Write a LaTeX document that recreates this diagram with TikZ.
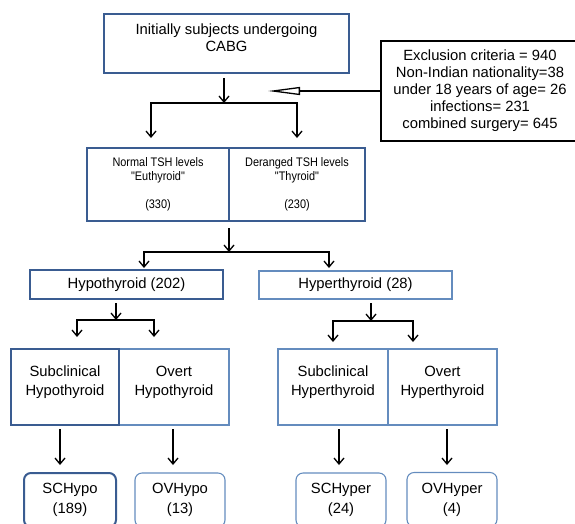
\documentclass[tikz,border=0pt]{standalone}
\usepackage{fontspec}
\setmainfont{Liberation Sans}
\newfontfamily\narrowfont[FakeStretch=0.88]{Liberation Sans}
\usetikzlibrary{arrows.meta}
\usetikzlibrary{positioning}
\definecolor{boxdark}{RGB}{58,92,145}
\definecolor{boxlight}{RGB}{100,140,190}
\tikzset{every node/.style={align=center,inner sep=0pt,outer sep=0pt},
         bigtext/.style={font=\fontsize{14.8}{17}\selectfont},
         smalltext/.style={font=\narrowfont\fontsize{12.4}{14}\selectfont},
         heavybox/.style={draw=boxdark,line width=2pt},
         lightbox/.style={draw=boxlight,line width=1.1pt},
         roundbox/.style={rounded corners=7pt},
         uptext/.style={text depth=#1},
         flow/.style={-{Straight Barb[length=6pt,width=10pt]},line width=1.3pt},
         flowtwo/.style={{Straight Barb[length=6pt,width=10pt]}-{Straight Barb[length=6pt,width=10pt]},line width=1.3pt},
         hollow/.style={-{Triangle[open,length=32pt,width=8pt,line width=1.3pt]},line width=2pt},
         }

\begin{document}
\begin{tikzpicture}[x=1pt,y=-1pt]
\useasboundingbox (0,0) rectangle (575,523);
\node[heavybox,bigtext,uptext=11pt,minimum width=245,minimum height=59] (init) at (226.5,43.5) {Initially subjects undergoing\\CABG};
\node[draw=black,line width=1.6pt,bigtext,minimum width=198,minimum height=100] (excl) at (480,91) {Exclusion criteria = 940\\Non-Indian nationality=38\\under 18 years of age= 26\\infections= 231\\combined surgery= 645};
\node[heavybox,smalltext,minimum width=142,minimum height=73] (normal) at (158,184.5) {Normal TSH levels\\"Euthyroid"\\[14pt](330)};
\node[heavybox,smalltext,minimum width=136,minimum height=73,right=0pt of normal] (deranged) {Deranged TSH levels\\"Thyroid"\\[14pt](230)};
\node[heavybox,line width=2.5pt,bigtext,minimum width=193,minimum height=29] (hypo) at (126.5,284.5) {Hypothyroid (202)};
\node[lightbox,bigtext,minimum width=193,minimum height=28] (hyper) at (355.5,285) {Hyperthyroid (28)};
\node[lightbox,bigtext,uptext=13pt,minimum width=110,minimum height=76] (overthypo) at (174,387) {Overt\\[2pt]Hypothyroid};
\node[heavybox,bigtext,uptext=13pt,minimum width=108,minimum height=76,left=0pt of overthypo] (subhypo) {Subclinical\\[2pt]Hypothyroid};
\node[lightbox,bigtext,uptext=13pt,minimum width=110,minimum height=76] (subhyper) at (333,387) {Subclinical\\[2pt]Hyperthyroid};
\node[lightbox,bigtext,uptext=13pt,minimum width=109,minimum height=76,right=0pt of subhyper] (overthyper) {Overt\\[2pt]Hyperthyroid};
\node[heavybox,roundbox,bigtext,minimum width=92,minimum height=54] (schypo) at (70,500) {SCHypo\\[3pt](189)};
\node[lightbox,roundbox,bigtext,minimum width=90,minimum height=54] (ovhypo) at (180,500) {OVHypo\\[3pt](13)};
\node[lightbox,roundbox,bigtext,minimum width=90,minimum height=54] (schyper) at (341,500) {SCHyper\\[3pt](24)};
\node[lightbox,roundbox,bigtext,minimum width=90,minimum height=54] (ovhyper) at (452,499.5) {OVHyper\\[3pt](4)};

\coordinate (fork1) at (224,103);
\coordinate (fork2) at (229,252);
\coordinate (fork3) at (116,320);
\coordinate (fork4) at (371,321);

\draw[hollow] (excl.west) -- ++(-113,0);
\draw[flow] ([xshift=-2.5pt,yshift=-5pt]init.south) -- (fork1);
\draw[flowtwo] ([xshift=-7pt,yshift=10pt]normal.north) |- (fork1) -| ([yshift=10pt]deranged.north);
\draw[flow] ([yshift=-7pt]normal.south east) -- (fork2);
\draw[flowtwo] ([xshift=17.5pt,yshift=2pt]hypo.north) |- (fork2) -| ([xshift=-26.5pt,yshift=3pt]hyper.north);
\draw[flow] ([xshift=-10.5pt,yshift=-4pt]hypo.south) -- (fork3);
\draw[flowtwo] ([xshift=12pt,yshift=12pt]subhypo.north) |- (fork3) -| ([xshift=-20pt,yshift=12pt]overthypo.north);
\draw[flow] ([xshift=15.5pt,yshift=-4pt]hyper.south) -- (fork4);
\draw[flowtwo] ([yshift=7pt]subhyper.north) |- (fork4) -| ([xshift=-29.5pt,yshift=7pt]overthyper.north);
\draw[flow] ([xshift=-5pt,yshift=-4pt]subhypo.south) -- ++(0,36);
\draw[flow] ([xshift=-1pt,yshift=-4pt]overthypo.south) -- ++(0,36);
\draw[flow] ([xshift=6pt,yshift=-4pt]subhyper.south) -- ++(0,36);
\draw[flow] ([xshift=4.5pt,yshift=-4pt]overthyper.south) -- ++(0,36);
\end{tikzpicture}
\end{document}
